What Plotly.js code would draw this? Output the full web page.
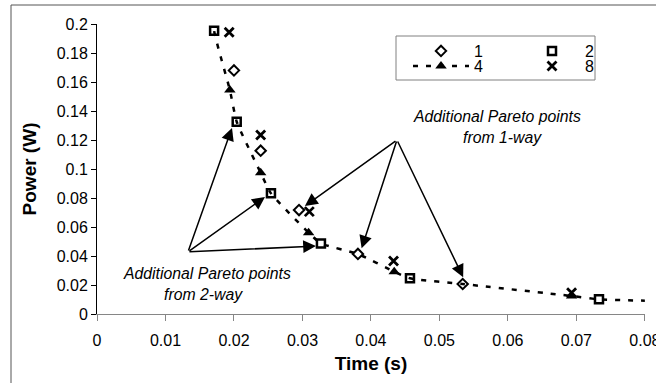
<!DOCTYPE html>
<html>
<head>
<meta charset="utf-8">
<script src="https://cdn.plot.ly/plotly-3.0.1.min.js"></script>
<style>html,body{margin:0;padding:0;background:#fff;}#chart{width:656px;height:383px;}</style>
</head>
<body>
<div id="chart"></div>
<script>
// ---- data ----
var s1x = [0.0200, 0.0239, 0.0295, 0.0381, 0.0534];
var s1y = [0.168, 0.1126, 0.0717, 0.0414, 0.0207];
var s2x = [0.0171, 0.0204, 0.0254, 0.0327, 0.0457, 0.0733];
var s2y = [0.1954, 0.1326, 0.0832, 0.0487, 0.0246, 0.0101];
var s4x = [0.0194, 0.0239, 0.0309, 0.0434, 0.0693];
var s4y = [0.1545, 0.0974, 0.0561, 0.0292, 0.0124];
var s8x = [0.0193, 0.0239, 0.0310, 0.0433, 0.0693];
var s8y = [0.1943, 0.1234, 0.0706, 0.0366, 0.0147];
// dashed Pareto curve
var curveX = [0.0172, 0.0171, 0.0194, 0.0204, 0.0239, 0.0254, 0.0309, 0.0327, 0.0381, 0.0434, 0.0457, 0.0534, 0.0693, 0.0733, 0.0800];
var curveY = [0.2040, 0.1954, 0.1545, 0.1326, 0.0974, 0.0832, 0.0561, 0.0487, 0.0414, 0.0292, 0.0246, 0.0207, 0.0124, 0.0101, 0.0092];
var seriesNames = ['1', '2', '4', '8'];
var xTicks = [0, 0.01, 0.02, 0.03, 0.04, 0.05, 0.06, 0.07, 0.08];
var xTickText = ['0', '0.01', '0.02', '0.03', '0.04', '0.05', '0.06', '0.07', '0.08'];
var yTicks = [0, 0.02, 0.04, 0.06, 0.08, 0.1, 0.12, 0.14, 0.16, 0.18, 0.2];
var yTickText = ['0', '0.02', '0.04', '0.06', '0.08', '0.1', '0.12', '0.14', '0.16', '0.18', '0.2'];
// annotation arrows: tails and heads
var tail2way = [0.01328, 0.0428];
var heads2wayX = [0.01971, 0.02453, 0.03197];
var heads2wayY = [0.1283, 0.0807, 0.0469];
var tail1way = [0.0438, 0.1200];
var heads1wayX = [0.03036, 0.03864, 0.05347];
var heads1wayY = [0.0745, 0.0453, 0.0253];
var label2way = ['Additional Pareto points', 'from 2-way'];
var label1way = ['Additional Pareto points', 'from 1-way'];

var FONT = 'Liberation Sans, Arial, sans-serif';
var DASH = '5px,8px';

// isolated points (nulls between) so the series-4 legend shows line+marker
function isolate(arr) {
  var out = [];
  arr.forEach(function (v, i) { if (i) out.push(null); out.push(v); });
  return out;
}

var traces = [
  {
    x: curveX, y: curveY, mode: 'lines', showlegend: false, hoverinfo: 'skip',
    line: {color: '#000', width: 2.5, dash: DASH, shape: 'spline', smoothing: 0.5}
  },
  {
    x: s1x, y: s1y, name: seriesNames[0], mode: 'markers', legend: 'legend',
    marker: {symbol: 'diamond-open', size: 8, color: '#000', line: {width: 2, color: '#000'}}
  },
  {
    x: s2x, y: s2y, name: seriesNames[1], mode: 'markers', legend: 'legend',
    marker: {symbol: 'square-open', size: 8, color: '#000', line: {width: 2.5, color: '#000'}}
  },
  {
    x: isolate(s4x), y: isolate(s4y), name: seriesNames[2], mode: 'lines+markers', legend: 'legend2',
    connectgaps: false,
    line: {color: '#000', width: 2.5, dash: DASH},
    marker: {symbol: 'triangle-up', size: 10, color: '#000', line: {width: 0}}
  },
  {
    x: s8x, y: s8y, name: seriesNames[3], mode: 'markers', legend: 'legend2',
    marker: {symbol: 'x-thin', size: 9, color: '#000', line: {width: 2.8, color: '#000'}}
  }
];

var annotations = [];
heads2wayX.forEach(function (hx, i) {
  annotations.push({x: hx, y: heads2wayY[i], xref: 'x', yref: 'y', ax: tail2way[0], ay: tail2way[1],
    axref: 'x', ayref: 'y', text: '', showarrow: true, arrowhead: 2, arrowsize: 1.7, arrowwidth: 1.5,
    arrowcolor: '#000', standoff: 0, startstandoff: 0});
});
heads1wayX.forEach(function (hx, i) {
  annotations.push({x: hx, y: heads1wayY[i], xref: 'x', yref: 'y', ax: tail1way[0], ay: tail1way[1],
    axref: 'x', ayref: 'y', text: '', showarrow: true, arrowhead: 2, arrowsize: 1.7, arrowwidth: 1.5,
    arrowcolor: '#000', standoff: 0, startstandoff: 0});
});
function textNote(txt, px, py) {
  return {text: '<i>' + txt + '</i>', xref: 'paper', yref: 'paper',
    x: (px - 97) / 548, y: (314 - py) / 290, xanchor: 'center', yanchor: 'middle',
    showarrow: false, font: {family: FONT, size: 15.8, color: '#000'}};
}
annotations.push(textNote(label2way[0], 207, 273));
annotations.push(textNote(label2way[1], 203, 294));
annotations.push(textNote(label1way[0], 497, 117));
annotations.push(textNote(label1way[1], 502, 137));

var legendBase = {
  orientation: 'h', xanchor: 'left', yanchor: 'middle',
  bgcolor: 'rgba(0,0,0,0)', borderwidth: 0,
  font: {family: FONT, size: 16, color: '#000'},
  itemwidth: 56, entrywidth: 40, entrywidthmode: 'pixels',
  itemclick: false, itemdoubleclick: false
};
var legend1 = Object.assign({}, legendBase, {x: (408 - 97) / 548, y: (314 - 51) / 290});
var legend2 = Object.assign({}, legendBase, {x: (408 - 97) / 548, y: (314 - 66) / 290});

var layout = {
  width: 656, height: 383,
  margin: {l: 97, r: 11, t: 24, b: 69, pad: 0},
  paper_bgcolor: '#fff', plot_bgcolor: '#fff',
  font: {family: FONT, color: '#000'},
  showlegend: true,
  legend: legend1,
  legend2: legend2,
  xaxis: {
    range: [0, 0.08002], tickmode: 'array', tickvals: xTicks, ticktext: xTickText,
    showgrid: false, zeroline: false, showline: true, linecolor: '#868686', linewidth: 1,
    ticks: 'outside', ticklen: 6, tickcolor: '#868686', tickwidth: 1, ticklabelstandoff: 6,
    ticklabeloverflow: 'allow',
    tickfont: {family: FONT, size: 16, color: '#000'},
    title: {text: '<b>Time (s)</b>', font: {family: FONT, size: 19, color: '#000'}, standoff: 8},
    automargin: false
  },
  yaxis: {
    range: [0, 0.2], tickmode: 'array', tickvals: yTicks, ticktext: yTickText,
    showgrid: false, zeroline: false, showline: true, linecolor: '#000', linewidth: 1,
    ticks: 'outside', ticklen: 5, tickcolor: '#000', tickwidth: 1,
    tickfont: {family: FONT, size: 16, color: '#000'},
    title: {text: '<b>Power (W)</b>', font: {family: FONT, size: 19, color: '#000'}, standoff: 15},
    automargin: false
  },
  annotations: annotations,
  shapes: [
    // outer chart frame (cropped on right and bottom)
    {type: 'rect', xref: 'paper', yref: 'paper', x0: (11 - 97) / 548, x1: 1.2, y0: -0.4, y1: (314 - 5) / 290,
      line: {color: '#555', width: 1}, fillcolor: 'rgba(0,0,0,0)'},
    // legend box
    {type: 'rect', xref: 'paper', yref: 'paper', x0: (396 - 97) / 548, x1: (595 - 97) / 548,
      y0: (314 - 80) / 290, y1: (314 - 36) / 290, line: {color: '#808080', width: 1}, fillcolor: 'rgba(0,0,0,0)'}
  ]
};

Plotly.newPlot('chart', traces, layout, {staticPlot: true, displayModeBar: false});
</script>
</body>
</html>
